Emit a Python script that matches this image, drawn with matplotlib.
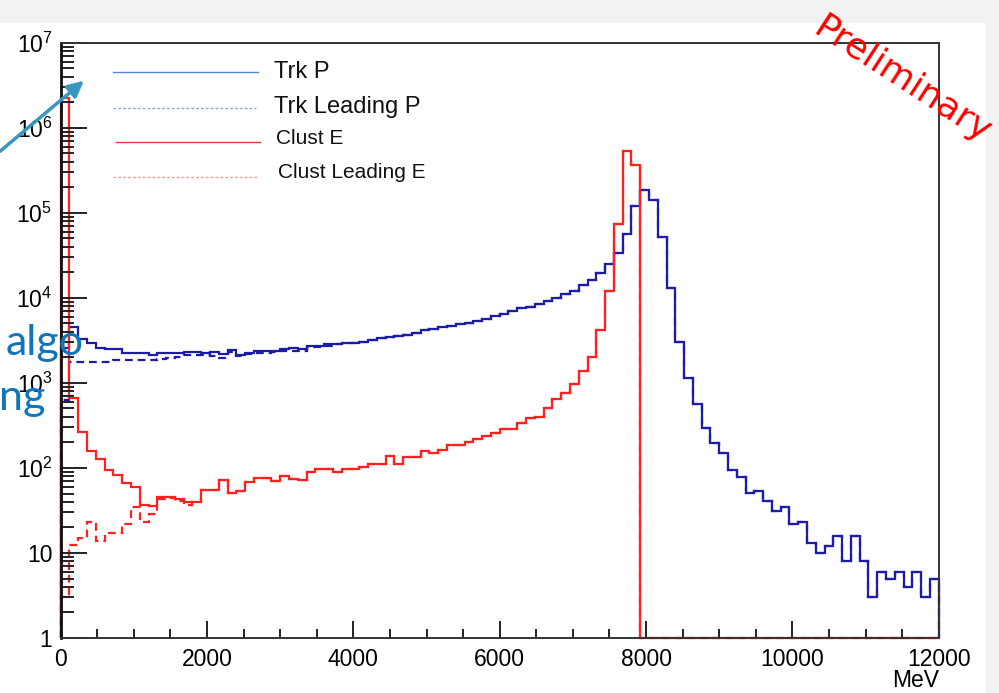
import numpy as np
import matplotlib.pyplot as plt
from matplotlib.patches import Rectangle, FancyArrowPatch
from matplotlib.lines import Line2D
from matplotlib.ticker import MultipleLocator, LogLocator, NullFormatter

plt.rcParams['font.family'] = ['Liberation Sans', 'DejaVu Sans']

# 100 bins of 120 MeV, 0 - 12000 MeV
edges = np.arange(101) * 120.0

trk_p = [2600, 4540, 3320, 2930, 2600, 2490, 2490, 2270, 2270, 2270,
         2150, 2240, 2240, 2240, 2300, 2300, 2230, 2300, 2180, 2410,
         2140, 2270, 2350, 2350, 2350, 2490, 2560, 2490, 2720, 2720,
         2870, 2830, 2960, 2960, 3050, 3200, 3360, 3480, 3600, 3700,
         3850, 4200, 4330, 4480, 4680, 4900, 5120, 5340, 5640, 6080,
         6420, 6970, 7540, 7840, 8530, 9130, 10040, 11100, 12150, 14000,
         16400, 19800, 24900, 33600, 55600, 121000, 183000, 142000, 52600, 13000,
         3060, 1136, 561, 293, 195, 149, 95, 79, 51, 54,
         41, 31, 35, 22, 23, 13, 10, 12, 16, 8,
         16, 8, 3, 6, 5, 6, 4, 6, 3, 5]

trk_lead_p = [630, 1780, 1780, 1780, 1780, 1780, 1850, 1850, 1850, 1850,
              1850, 1900, 1950, 2000, 2100, 2150, 2150, 2050, 1970, 2300,
              2080, 2200, 2250, 2250, 2280, 2400, 2400, 2400, 2650, 2650,
              2750] + trk_p[31:]

clust_e = [2.25e6, 660, 263, 158, 127, 95, 83, 66, 59, 37,
           36, 45, 45, 43, 40, 40, 55, 55, 72, 51,
           54, 69, 76, 76, 70, 80, 74, 73, 90, 97,
           97, 90, 96, 96, 102, 111, 111, 138, 111, 134,
           134, 156, 149, 163, 185, 185, 202, 221, 238, 260,
           285, 285, 335, 384, 402, 512, 643, 757, 973, 1390,
           2000, 4150, 11900, 74300, 527000, 367000] + [0] * 34

clust_lead_e = [3, 12.4, 15, 23, 14, 17, 17, 22, 35, 23,
                28.5, 43, 44, 41, 37] + clust_e[15:]

legend_labels = ['Trk P', 'Trk Leading P', 'Clust E', 'Clust Leading E']

W, H = 999, 693
fig = plt.figure(figsize=(W / 100, H / 100), dpi=100, facecolor='#f2f2f2')
fig.patches.append(Rectangle((0, 0), 986 / W, 670 / H, transform=fig.transFigure,
                             facecolor='white', edgecolor='none', zorder=-10))

ax = fig.add_axes([60.7 / W, 55 / H, 878 / W, 595.3 / H])


def draw(vals, color, ls):
    v = np.array(vals, dtype=float)
    v[v <= 0] = 1.0  # empty bins sit on the frame, like ROOT
    ax.stairs(v, edges, baseline=1, color=color, lw=1.6, ls=ls, clip_on=False)


dash = (0, (3.5, 2.2))
draw(trk_lead_p, '#1c1ca8', dash)
draw(trk_p, '#1c1ca8', '-')
draw(clust_lead_e, '#ff2020', dash)
draw(clust_e, '#ff2020', '-')

ax.set_xlim(0, 12000)
ax.set_yscale('log')
ax.set_ylim(1, 1e7)
ax.set_yticks([10 ** k for k in range(8)])
ax.set_yticklabels(['1', '10'] + [r'$\mathdefault{10^{%d}}$' % k for k in range(2, 8)])
ax.yaxis.set_minor_locator(LogLocator(base=10, subs=range(2, 10)))
ax.yaxis.set_minor_formatter(NullFormatter())
ax.xaxis.set_major_locator(MultipleLocator(2000))
ax.xaxis.set_minor_locator(MultipleLocator(500))

ax.tick_params(axis='both', which='both', direction='in', width=1.4,
               colors='#222222', labelcolor='black', labelsize=16.5)
ax.tick_params(axis='y', which='major', length=18.5, pad=6)
ax.tick_params(axis='y', which='minor', length=9.5)
ax.tick_params(axis='x', which='major', length=12, pad=7)
ax.tick_params(axis='x', which='minor', length=6.5)
for name, s in ax.spines.items():
    s.set_color('#333333')
    s.set_linewidth(1.4)
    s.set_zorder(5)
ax.spines['left'].set_linewidth(2.0)
ax.spines['left'].set_color('#111111')

ax.set_xlabel('MeV', loc='right', fontsize=16.5, va='baseline')
ax.xaxis.set_label_coords(1.0, -0.083)

# hand-drawn legend on the slide
leg_lines = [(113, 258, 72, '#5585d6', '-'), (113, 256, 107.5, '#8aa6e2', (0, (2, 1.5))),
             (116, 260, 141.7, '#f03838', '-'), (113, 257, 176.7, '#f79a9a', (0, (2, 1.5)))]
leg_text = [(274, 72, 17), (274, 107, 17), (276, 139, 15), (278, 173, 15)]
for (x0, x1, y, c, ls), (tx, ty, fs), lab in zip(leg_lines, leg_text, legend_labels):
    fig.add_artist(Line2D([x0 / W, x1 / W], [1 - y / H, 1 - y / H], transform=fig.transFigure,
                          color=c, lw=1.0, ls=ls))
    fig.text(tx / W, 1 - ty / H, lab, fontsize=fs, ha='left', va='center', color='#111111')

# slide annotations
fig.add_artist(FancyArrowPatch((-2 / W, 1 - 153 / H), (86 / W, 1 - 79 / H),
                               transform=fig.transFigure, arrowstyle='-|>',
                               mutation_scale=24, lw=2.5, color='#3797c0'))
fig.text(6 / W, 1 - 355 / H, 'algo', fontsize=31, family=['Lato', 'DejaVu Sans'],
         color='#0f75bd', ha='left', va='baseline')
fig.text(45 / W, 1 - 410 / H, 'ng', fontsize=31, family=['Lato', 'DejaVu Sans'],
         color='#0f75bd', ha='right', va='baseline')
fig.text(902 / W, 1 - 80 / H, 'Preliminary', fontsize=26, family=['DejaVu Sans'],
         color='red', rotation=-33, ha='center', va='center', rotation_mode='anchor')

fig.savefig('out.png', dpi=100, facecolor=fig.get_facecolor())
